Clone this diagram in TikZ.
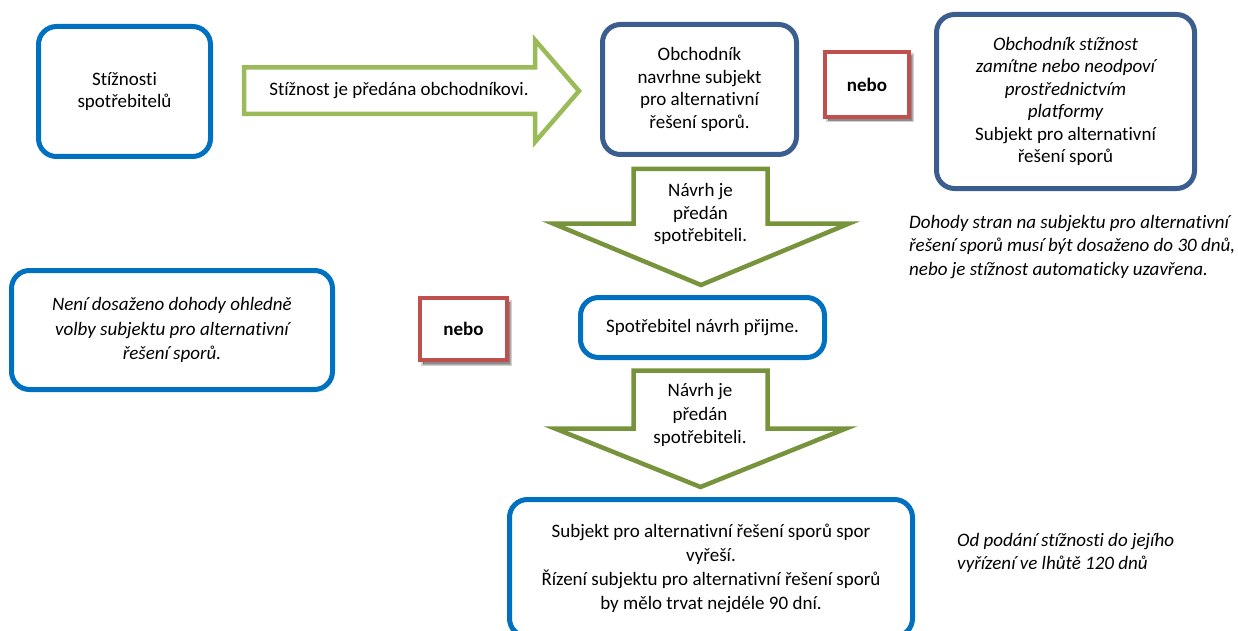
\documentclass[tikz,border=0pt]{standalone}
\usepackage{fontspec}
\setmainfont{Carlito}[Ligatures={NoCommon}]
\definecolor{cblue}{HTML}{0070C0}
\definecolor{cdark}{HTML}{3B5E8E}
\definecolor{cred}{HTML}{C0504D}
\definecolor{clight}{HTML}{9BBB59}
\definecolor{colive}{HTML}{77933C}
\begin{document}
\begin{tikzpicture}[x=1pt,y=-1pt,
  txt/.style={font=\fontsize{19}{22.5}\selectfont, align=center, inner sep=0pt},
  bbox/.style={draw=cblue, line width=5pt, rounded corners=18pt, fill=white, txt},
  dbox/.style={draw=cdark, line width=5pt, rounded corners=18pt, fill=white, txt},
  nebobox/.style={draw=cred, line width=3.5pt, fill=white, txt, font=\fontsize{19}{22.5}\selectfont\bfseries,
    preaction={draw=black, fill=black, line width=4pt, opacity=0.18, transform canvas={xshift=2.5pt, yshift=-3.5pt}},
    preaction={draw=black, fill=black, line width=1pt, opacity=0.18, transform canvas={xshift=3pt, yshift=-4pt}}},
  bigarrow/.style={line width=4.5pt, line join=miter, fill=white},
  note/.style={font=\fontsize{19}{23.5}\selectfont\itshape, align=left, inner sep=0pt, anchor=west}
]
\useasboundingbox (0,0) rectangle (1238,631);
\clip (0,0) rectangle (1238,631);

% boxes
\node[bbox, minimum width=172, minimum height=130] (cons) at (124.5,91.5) {Stížnosti\\spotřebitelů};
\node[dbox, minimum width=194, minimum height=130] (trader) at (699.5,89.5) {Obchodník\\navrhne subjekt\\pro alternativní\\řešení sporů.};
\node[nebobox, minimum width=84, minimum height=65] (nebo1) at (867,84.5) {nebo};
\node[dbox, minimum width=258, minimum height=174] (plat) at (1065.5,101.5)
  {\itshape Obchodník stížnost\\\itshape zamítne nebo neodpoví\\\itshape prostřednictvím\\\itshape platformy\\Subjekt pro alternativní\\řešení sporů};
\node[note] (note1) at (909,247) {Dohody stran na subjektu pro alternativní\\řešení sporů musí být dosaženo do 30 dnů,\\nebo je stížnost automaticky uzavřena.};
\node[bbox, minimum width=321, minimum height=119, font=\fontsize{19}{24.5}\selectfont\itshape] (noagr) at (172,330)
  {Není dosaženo dohody ohledně\\volby subjektu pro alternativní\\řešení sporů.};
\node[nebobox, minimum width=87, minimum height=62] (nebo2) at (463.5,329) {nebo};
\node[bbox, minimum width=244, minimum height=60] (accept) at (702.5,327.5) {Spotřebitel návrh přijme.};
\node[bbox, minimum width=403, minimum height=137, font=\fontsize{19}{24}\selectfont] (ads) at (711,568)
  {Subjekt pro alternativní řešení sporů spor\\vyřeší.\\Řízení subjektu pro alternativní řešení sporů\\by mělo trvat nejdéle 90 dní.};
\node[note, font=\fontsize{19}{23}\selectfont\itshape] (note2) at (957,552.5) {Od podání stížnosti do jejího\\vyřízení ve lhůtě 120 dnů};

% arrows
\draw[bigarrow, draw=clight] (244,67.5) -- (535,67.5) -- (535,40) -- (579,91) -- (535,142) -- (535,114) -- (244,114) -- cycle;
\node[txt] (a1) at (399,90.5) {Stížnost je předána obchodníkovi.};

\draw[bigarrow, draw=colive] (633.5,169) -- (767.5,169) -- (767.5,223.5) -- (849,223.5) -- (701,285) -- (553,223.5) -- (633.5,223.5) -- cycle;
\node[txt, font=\fontsize{19}{22.5}\selectfont] (a2) at (700.5,214) {Návrh je\\předán\\spotřebiteli.};

\draw[bigarrow, draw=colive] (633.5,370.5) -- (767.5,370.5) -- (767.5,428.5) -- (846,428.5) -- (700.5,487) -- (555,428.5) -- (633.5,428.5) -- cycle;
\node[txt, font=\fontsize{19}{23.5}\selectfont] (a3) at (700,415) {Návrh je\\předán\\spotřebiteli.};
\end{tikzpicture}
\end{document}
